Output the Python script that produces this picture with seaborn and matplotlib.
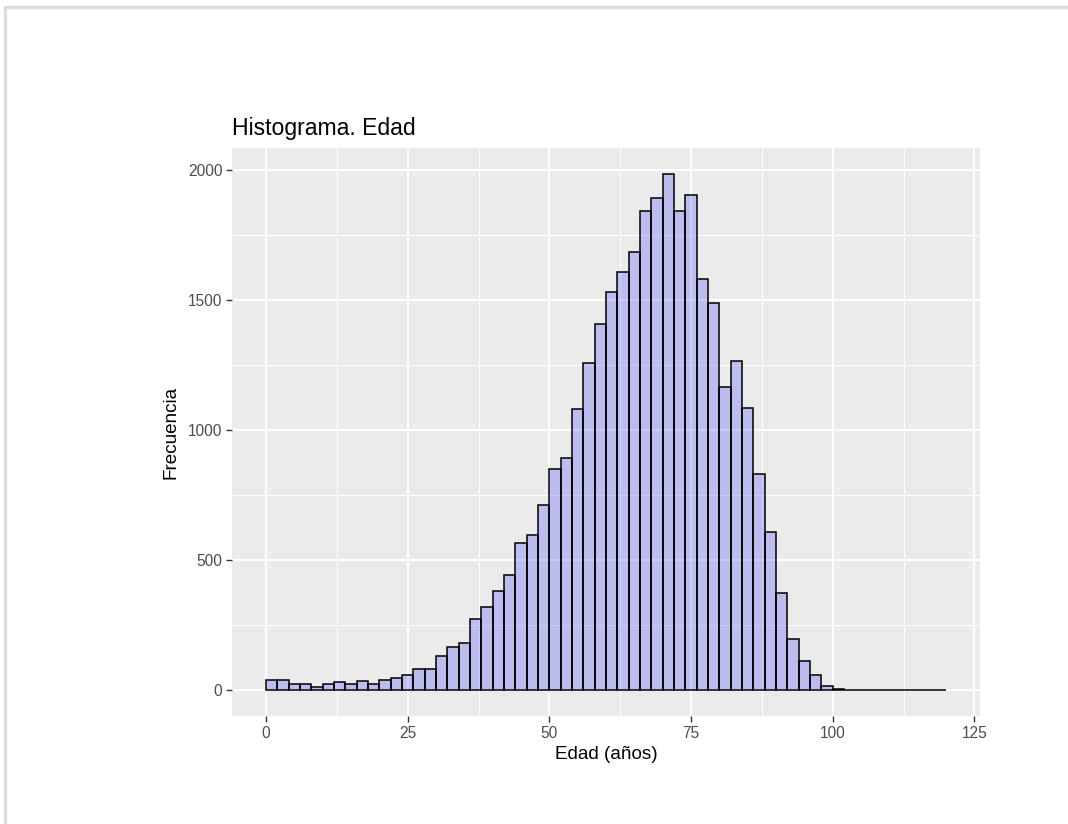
import numpy as np
import matplotlib
matplotlib.use("Agg")
import matplotlib.pyplot as plt
from matplotlib.lines import Line2D
import seaborn as sns

# bins of 2 years from 0 to 120, counts
bin_edges = list(range(0, 122, 2))
counts = [41, 41, 23, 23, 13, 23, 30, 23, 35, 23,
          40, 45, 59, 80, 80, 131, 166, 183, 273, 318,
          380, 444, 566, 596, 713, 852, 892, 1081, 1258, 1409,
          1530, 1610, 1686, 1844, 1894, 1986, 1844, 1905, 1580, 1489,
          1165, 1266, 1084, 830, 607, 373, 197, 112, 57, 15,
          5, 0, 0, 0, 0, 0, 0, 0, 0, 0]
centers = [(a + b) / 2 for a, b in zip(bin_edges[:-1], bin_edges[1:])]

x_ticks = [0, 25, 50, 75, 100, 125]
y_ticks = [0, 500, 1000, 1500, 2000]

sns.set_theme(style="darkgrid")
plt.rcParams['font.family'] = ['Liberation Sans', 'DejaVu Sans']

fig = plt.figure(figsize=(10.68, 8.24), dpi=100)
ax = fig.add_axes([232 / 1068, 108 / 824, 748 / 1068, 568 / 824])
ax.set_facecolor("#EBEBEB")

sns.histplot(x=centers, weights=counts, bins=bin_edges, ax=ax,
             color=(0, 0, 1, 0.2), edgecolor="black", linewidth=1.1,
             alpha=None, zorder=3)
for p in ax.patches:
    p.set_facecolor((0, 0, 1, 0.2))

ax.set_xlim(-6, 126)
ax.set_ylim(-99.3, 2085)
ax.set_xticks(x_ticks)
ax.set_yticks(y_ticks)
ax.set_xticks([12.5, 37.5, 62.5, 87.5, 112.5], minor=True)
ax.set_yticks([250, 750, 1250, 1750], minor=True)
ax.grid(which="major", color="white", linewidth=1.4)
ax.grid(which="minor", color="white", linewidth=0.7)
ax.set_axisbelow(True)
for s in ax.spines.values():
    s.set_visible(False)

ax.tick_params(axis="both", which="major", labelsize=11.2, labelcolor="#4D4D4D",
               color="#333333", length=4, width=1, pad=3,
               bottom=True, left=True)
ax.tick_params(axis="both", which="minor", length=0)

ax.set_xlabel("Edad (años)", fontsize=13.6, color="black", labelpad=4)
ax.set_ylabel("Frecuencia", fontsize=13.6, color="black", labelpad=6)
ax.set_title("Histograma. Edad", fontsize=16.6, loc="left", color="black", pad=9)

# light frame of the screenshot
fig.add_artist(Line2D([5 / 1068, 5 / 1068], [0, 1 - 7 / 824], color="#DDDDDD",
                      linewidth=2.5, transform=fig.transFigure))
fig.add_artist(Line2D([5 / 1068, 1], [1 - 7 / 824, 1 - 7 / 824], color="#DDDDDD",
                      linewidth=2.5, transform=fig.transFigure))

fig.savefig("out.png", dpi=100, facecolor="white")
plt.close(fig)
